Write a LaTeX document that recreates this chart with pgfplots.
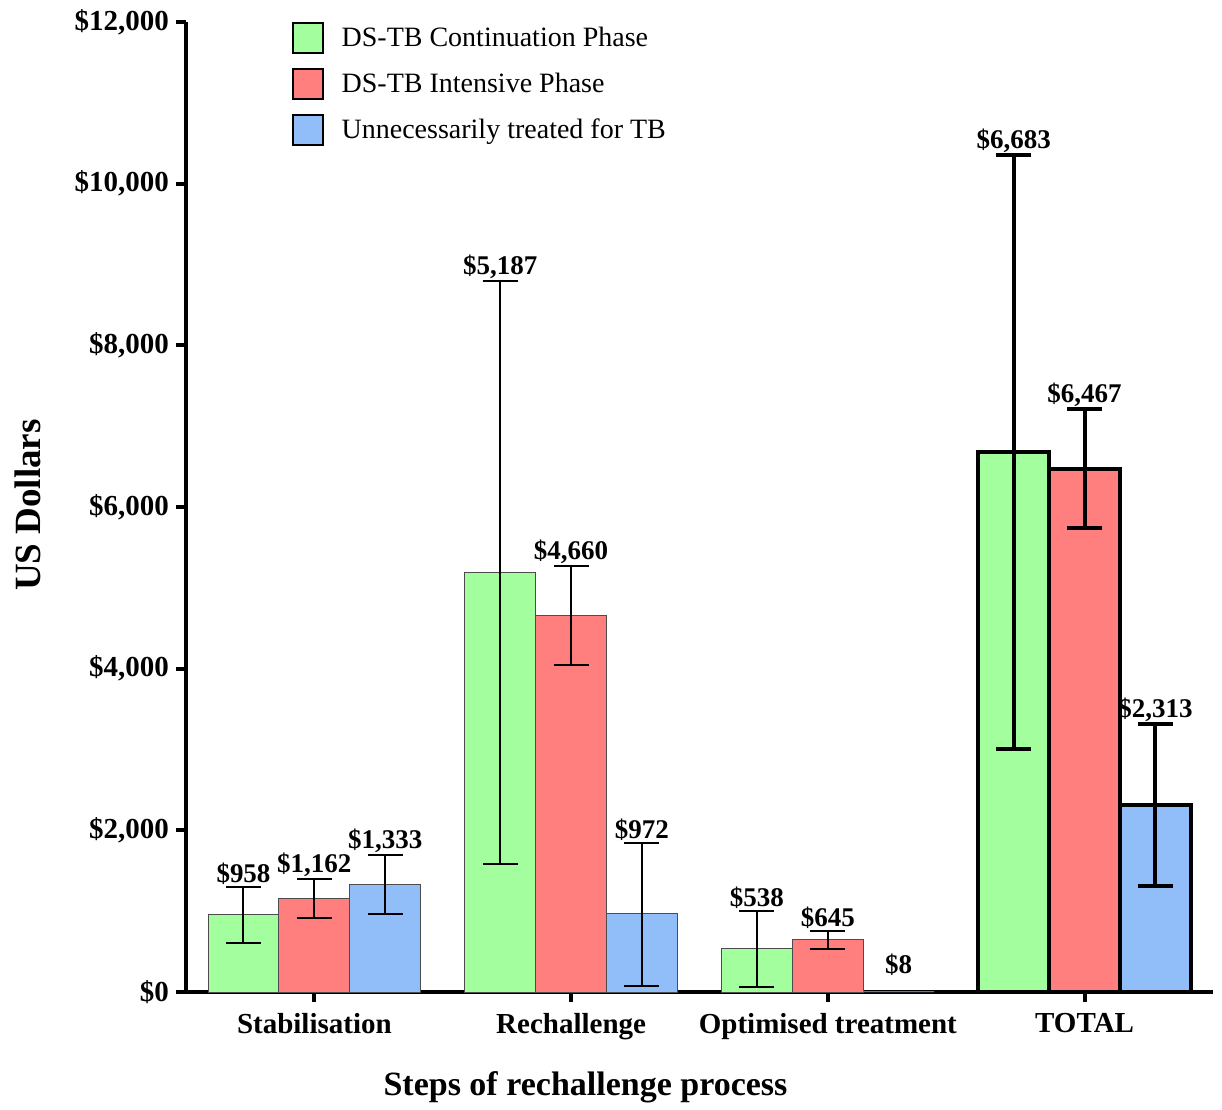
\documentclass[border=0pt]{standalone}
\usepackage{fontspec}
\setmainfont{Liberation Serif}
\usepackage{pgfplots}
\pgfplotsset{compat=1.18}
\definecolor{cg}{HTML}{A3FF9E}
\definecolor{cr}{HTML}{FF7F7F}
\definecolor{cb}{HTML}{91BEF8}
\pgfplotsset{
  thinerr/.style={forget plot, draw=none, mark=none,
    error bars/.cd, y dir=both, y explicit,
    error bar style={line width=1pt, draw=black},
    error mark=-,
    error mark options={rotate=90, line width=1pt, mark size=8.75pt, draw=black}},
  thickerr/.style={forget plot, draw=none, mark=none,
    error bars/.cd, y dir=both, y explicit,
    error bar style={line width=2pt, draw=black},
    error mark=-,
    error mark options={rotate=90, line width=2pt, mark size=8.75pt, draw=black}},
}
\begin{document}
\begin{tikzpicture}
\begin{axis}[
  scale only axis, width=513.5pt, height=485pt,
  xmin=-0.5, xmax=3.5, ymin=0, ymax=12000,
  axis lines=left, axis line style={-, line width=2pt},
  scaled y ticks=false,
  xtick={0,1,2,3},
  xticklabels={Stabilisation,Rechallenge,Optimised treatment,TOTAL},
  ytick={0,2000,4000,6000,8000,10000,12000},
  yticklabels={{\$0},{\$2,000},{\$4,000},{\$6,000},{\$8,000},{\$10,000},{\$12,000}},
  tick align=outside, major tick length=5pt,
  tick style={line width=2pt, black},
  ticklabel style={font=\bfseries\fontsize{14.5}{16}\selectfont},
  xticklabel style={yshift=-2pt},
  xlabel={Steps of rechallenge process},
  ylabel={US Dollars},
  xlabel style={font=\bfseries\fontsize{17}{19}\selectfont, at={(axis description cs:0.389,-0.098)}, anchor=center},
  ylabel style={font=\bfseries\fontsize{18.5}{20}\selectfont, at={(axis description cs:-0.154,0.502)}, anchor=center},
  legend style={draw=none, fill=none, at={(0.103,1.0)}, anchor=north west,
    inner sep=0pt, row sep=7pt, font=\fontsize{14}{16}\selectfont},
  legend cell align=left,
  clip=false,
]
% thin groups
\addplot[ybar, bar width=0.276, bar shift=-0.276, fill=cg, draw=black!70, line width=0.5pt,
  legend image code/.code={\draw[fill=cg, draw=black, line width=1pt] (0pt,-7.5pt) rectangle (15pt,7.5pt); \path (22pt,0pt);}]
  coordinates {(0,958) (1,5187) (2,538)};
\addlegendentry{DS-TB Continuation Phase}
\addplot[ybar, bar width=0.276, bar shift=0, fill=cr, draw=black!70, line width=0.5pt,
  legend image code/.code={\draw[fill=cr, draw=black, line width=1pt] (0pt,-7.5pt) rectangle (15pt,7.5pt); \path (22pt,0pt);}]
  coordinates {(0,1162) (1,4660) (2,645)};
\addlegendentry{DS-TB Intensive Phase}
\addplot[ybar, bar width=0.276, bar shift=0.276, fill=cb, draw=none,
  legend image code/.code={\draw[fill=cb, draw=black, line width=1pt] (0pt,-7.5pt) rectangle (15pt,7.5pt); \path (22pt,0pt);}]
  coordinates {(0,1333) (1,972) (2,8)};
\addlegendentry{Unnecessarily treated for TB}
% outlines of the blue bars that have visible height
\addplot[ybar, forget plot, bar width=0.276, bar shift=0.276, fill=cb, draw=black!70, line width=0.5pt]
  coordinates {(0,1333) (1,972)};
% TOTAL group (thick)
\addplot[ybar, forget plot, bar width=0.276, bar shift=-0.276, fill=cg, draw=black, line width=2pt]
  coordinates {(3,6683)};
\addplot[ybar, forget plot, bar width=0.276, bar shift=0, fill=cr, draw=black, line width=2pt]
  coordinates {(3,6467)};
\addplot[ybar, forget plot, bar width=0.276, bar shift=0.276, fill=cb, draw=black, line width=2pt]
  coordinates {(3,2313)};
% error bars
\addplot[thinerr] coordinates {
  (-0.276,958) += (0,346) -= (0,356)
  (0,1162) += (0,239) -= (0,250)
  (0.276,1333) += (0,358) -= (0,363)
  (0.724,5187) += (0,3608) -= (0,3602)
  (1,4660) += (0,615) -= (0,610)
  (1.276,972) += (0,870) -= (0,902)
  (1.724,538) += (0,464) -= (0,476)
  (2,645) += (0,106) -= (0,113)};
\addplot[thickerr] coordinates {
  (2.724,6683) += (0,3676) -= (0,3677)
  (3,6467) += (0,744) -= (0,731)
  (3.276,2313) += (0,1002) -= (0,1005)};
% value labels
\addplot[forget plot, only marks, mark=none, draw=none,
  nodes near coords, point meta=explicit symbolic,
  nodes near coords style={font=\bfseries\fontsize{13.5}{15}\selectfont, text=black, anchor=south, inner sep=1pt}]
  coordinates {
   (-0.276,1304) [{\$958}]
   (0,1401) [{\$1,162}]
   (0.276,1691) [{\$1,333}]
   (0.724,8795) [{\$5,187}]
   (1,5275) [{\$4,660}]
   (1.276,1842) [{\$972}]
   (1.724,1002) [{\$538}]
   (2,751) [{\$645}]
   (2.276,170) [{\$8}]
   (2.724,10359) [{\$6,683}]
   (3,7211) [{\$6,467}]
   (3.276,3315) [{\$2,313}]
  };
\path (rel axis cs:-0.1811,-0.1165) rectangle (rel axis cs:1.0088,1.0227);
\end{axis}
\end{tikzpicture}
\end{document}
